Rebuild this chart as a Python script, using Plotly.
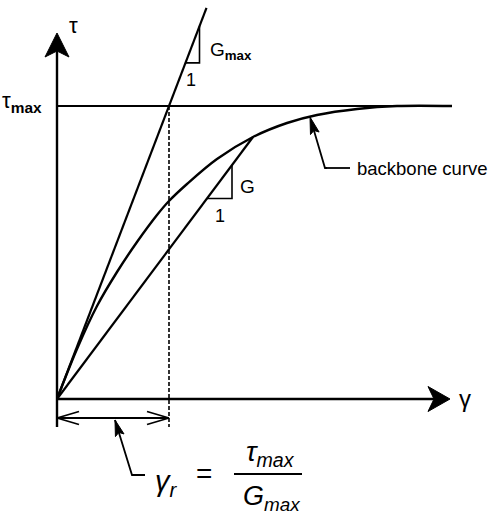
import math
import plotly.graph_objects as go

# Stress-strain sketch: plot units are screen pixels measured from the origin
TAU_MAX = 293          # asymptotic shear strength
GAMMA_R = 112          # reference strain = TAU_MAX / G_MAX
G_MAX = TAU_MAX / GAMMA_R
GMAX_LINE_END = 149.5  # strain where the initial-tangent line stops
TAU_LINE_END = 395     # strain where the TAU_MAX line stops

# Backbone curve (hyperbolic-type stress-strain relation)
backbone_gamma = [0, 20, 40, 60, 80, 100, 112, 130, 160, 196, 230, 260, 300, 340, 395]
backbone_tau = [0, 50, 93, 127, 157, 184, 198, 215, 240, 262, 276, 284, 290, 293, 293]
SECANT_INDEX = 9       # backbone point reached by the secant modulus G
G_SEC = backbone_tau[SECANT_INDEX] / backbone_gamma[SECANT_INDEX]

# Slope triangles: (start strain on line, horizontal run)
GMAX_TRI = (128.5, 14)
G_TRI = (150, 25)

X_AXIS_END = 393
Y_AXIS_END = 366
DIM_Y = -19            # level of the gamma_r dimension line
TICK_LOW = -28

BLACK = "#000000"
FONT = "Liberation Sans, Arial, Helvetica, sans-serif"

fig = go.Figure()


def line(xs, ys, width=2.0, dash=None, shape="linear"):
    fig.add_trace(go.Scatter(
        x=xs, y=ys, mode="lines",
        line=dict(color=BLACK, width=width, dash=dash, shape=shape),
        hoverinfo="skip", showlegend=False))


def head_path(tip, tail, length, half, notch=0.0):
    dx, dy = tip[0] - tail[0], tip[1] - tail[1]
    n = math.hypot(dx, dy)
    ux, uy = dx / n, dy / n
    bx, by = tip[0] - ux * length, tip[1] - uy * length
    px, py = -uy, ux
    c1 = (bx + px * half, by + py * half)
    c2 = (bx - px * half, by - py * half)
    m = (tip[0] - ux * (length - notch), tip[1] - uy * (length - notch))
    return (f"M{tip[0]},{tip[1]} L{c1[0]},{c1[1]} L{m[0]},{m[1]} "
            f"L{c2[0]},{c2[1]} Z")


def filled_head(tip, tail, length, half, notch=0.0):
    fig.add_shape(type="path", xref="x", yref="y",
                  path=head_path(tip, tail, length, half, notch),
                  fillcolor=BLACK, line=dict(color=BLACK, width=1))


def open_head(tip, tail, length, half):
    dx, dy = tip[0] - tail[0], tip[1] - tail[1]
    n = math.hypot(dx, dy)
    ux, uy = dx / n, dy / n
    bx, by = tip[0] - ux * length, tip[1] - uy * length
    for s in (1, -1):
        line([bx - uy * half * s, tip[0]], [by + ux * half * s, tip[1]], width=1.8)


# Axes with arrowheads
line([0, 0], [TICK_LOW, Y_AXIS_END - 18], width=2.4)
filled_head((0, Y_AXIS_END), (0, 0), 24, 12, 6)
line([0, X_AXIS_END - 16], [0, 0], width=2.4)
filled_head((X_AXIS_END, 0), (0, 0), 22, 12.5, 6)

# Strength line
line([0, TAU_LINE_END], [TAU_MAX, TAU_MAX], width=2.2)

# Initial tangent line G_max
line([0, GMAX_LINE_END], [0, G_MAX * GMAX_LINE_END], width=2.2)

# Secant line G
line([0, backbone_gamma[SECANT_INDEX]], [0, backbone_tau[SECANT_INDEX]], width=2.2)

# Backbone curve
line(backbone_gamma, backbone_tau, width=2.4, shape="spline")

# Slope triangles
g0, run = GMAX_TRI
line([g0, g0 + run, g0 + run], [G_MAX * g0, G_MAX * g0, G_MAX * (g0 + run)], width=1.6)
g0, run = G_TRI
line([g0, g0 + run, g0 + run], [G_SEC * g0, G_SEC * g0, G_SEC * (g0 + run)], width=1.6)

# Reference strain: dashed drop line and dimension arrow
line([GAMMA_R, GAMMA_R], [TAU_MAX, TICK_LOW], width=1.6, dash="4px,2px")
line([0, GAMMA_R], [DIM_Y, DIM_Y], width=1.8)
open_head((0, DIM_Y), (GAMMA_R, DIM_Y), 22, 6.5)
open_head((GAMMA_R, DIM_Y), (0, DIM_Y), 22, 6.5)

# Leader for the backbone label
bb_tip = (253, 282)
bb_elbow = (268, 231)
line([bb_elbow[0] + 2, bb_elbow[0], bb_tip[0] + 3.5 * 0.28], [bb_elbow[1], bb_elbow[1], bb_tip[1] - 3.5], width=1.8)
line([bb_elbow[0], bb_elbow[0] + 25], [bb_elbow[1], bb_elbow[1]], width=1.8)
filled_head(bb_tip, bb_elbow, 17, 4.5, 3)

# Leader for gamma_r
gr_tip = (58, -21)
gr_elbow = (75, -76)
line([gr_tip[0], gr_elbow[0], gr_elbow[0] + 13], [gr_tip[1], gr_elbow[1], gr_elbow[1]], width=1.8)
filled_head(gr_tip, gr_elbow, 16, 4.5, 3)

# Fraction bar of the formula
line([177, 245], [-75, -75], width=1.8)


def label(x, y, text, size=18, xanchor="center"):
    fig.add_annotation(x=x, y=y, xref="x", yref="y", text=text, showarrow=False,
                       xanchor=xanchor, yanchor="middle",
                       font=dict(family=FONT, size=size, color=BLACK))


label(16, 374, "τ", size=22)
label(-57, 297, "τ<sub><b>max</b></sub>", size=22, xanchor="left")
label(151, 348, "G<sub><b>max</b></sub>", size=19, xanchor="left")
label(134, 319, "1", size=18)
label(190, 213, "G", size=19)
label(163, 183, "1", size=18)
label(298, 231, "backbone curve", size=18.5, xanchor="left")
label(408, 1, "γ", size=24)

label(109, -84, "<i>γ<sub>r</sub></i>", size=29)
label(147, -74, "=", size=28)
label(213, -54, "<i>τ<sub>max</sub></i>", size=28)
label(214, -99, "<i>G<sub>max</sub></i>", size=27)

fig.update_layout(
    width=491, height=517,
    margin=dict(l=0, r=0, t=0, b=0),
    paper_bgcolor="white", plot_bgcolor="white",
    showlegend=False,
    xaxis=dict(range=[-57, 434], visible=False, fixedrange=True),
    yaxis=dict(range=[-118, 399], visible=False, fixedrange=True),
)

fig.write_html("out.html")
